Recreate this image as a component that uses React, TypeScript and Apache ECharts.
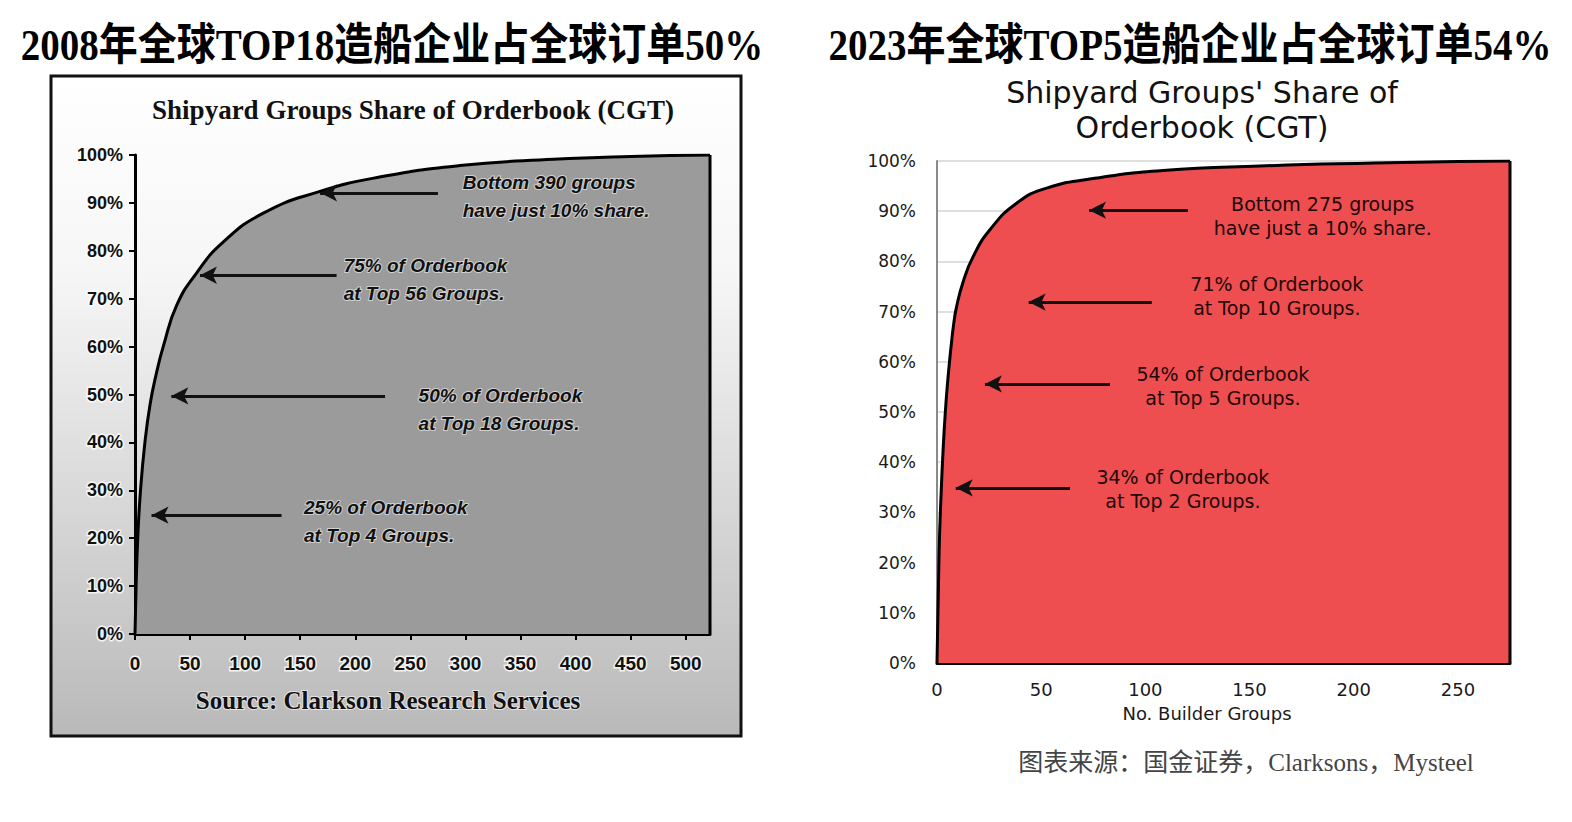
import React, { useEffect, useRef } from "react";
import * as echarts from "echarts";

// ---- Left chart (2008) ----
const LEFT_GROUPS = [0, 1, 2.5, 5, 9, 13.6, 19, 26, 38, 56, 80, 116, 165, 222, 295, 380, 450, 522];
const LEFT_SHARE = [0, 10, 20, 30, 40, 47.8, 54, 60.3, 68.7, 75.4, 81.8, 87.8, 92.2, 95.4, 97.8, 99.1, 99.7, 100];
const LEFT_MAX_GROUPS = 522;
const LEFT_X_TICKS = [0, 50, 100, 150, 200, 250, 300, 350, 400, 450, 500];

const LEFT_NOTES = [
  "Bottom 390 groups\nhave just 10% share.",
  "75% of Orderbook\nat Top 56 Groups.",
  "50% of Orderbook\nat Top 18 Groups.",
  "25% of Orderbook\nat Top 4 Groups.",
];
const LEFT_ARROW_Y = [92.1, 74.9, 49.7, 24.8];
const LEFT_ARROW_HEAD_X = [168, 59, 33, 15];
const LEFT_ARROW_TAIL_X = [275, 183, 227, 133];
const LEFT_NOTE_X = [297, 189, 257, 153];
const LEFT_NOTE_Y = [91.3, 74.0, 46.8, 23.5];

// ---- Right chart (2023) ----
const RIGHT_GROUPS = [0, 1, 2, 3, 4, 5, 6, 7, 8, 9.4, 12.6, 17.4, 25.4, 38.2, 52.6, 76.6, 108.5, 155, 210, 250, 275];
const RIGHT_SHARE = [0, 22, 34, 43, 50, 55.5, 60, 64, 67.5, 71, 76, 81, 86.3, 91.6, 94.6, 96.6, 98.1, 99, 99.6, 99.9, 100];
const RIGHT_MAX_GROUPS = 275;
const RIGHT_X_TICKS = [0, 50, 100, 150, 200, 250];

const RIGHT_NOTES = [
  "Bottom 275 groups\nhave just a 10% share.",
  "71% of Orderbook\nat Top 10 Groups.",
  "54% of Orderbook\nat Top 5 Groups.",
  "34% of Orderbook\nat Top 2 Groups.",
];
const RIGHT_ARROW_Y = [90.2, 71.9, 55.6, 34.9];
const RIGHT_ARROW_HEAD_X = [73, 44, 23, 9];
const RIGHT_ARROW_TAIL_X = [120.4, 103.1, 83, 63.8];
const RIGHT_NOTE_X = [185.1, 163.1, 137.2, 118.0];
const RIGHT_NOTE_Y = [89.0, 73.1, 55.1, 34.7];

const TITLE_LEFT = "2008年全球TOP18造船企业占全球订单50%";
const TITLE_RIGHT = "2023年全球TOP5造船企业占全球订单54%";
const SOURCE_NOTE = "图表来源：国金证券，Clarksons，Mysteel";

const SERIF = "'Liberation Serif', 'Times New Roman', 'Noto Sans CJK SC', serif";
const SANS = "'Liberation Sans', Arial, sans-serif";
const GOTHIC = "'DejaVu Sans', 'Noto Sans', sans-serif";

export default function App() {
  const ref = useRef<HTMLDivElement>(null);

  useEffect(() => {
    if (!ref.current) return;
    const chart = echarts.init(ref.current, null, { renderer: "svg" });

    const leftData = LEFT_GROUPS.map((g, i) => [g, LEFT_SHARE[i]]);
    const rightData = RIGHT_GROUPS.map((g, i) => [g, RIGHT_SHARE[i]]);
    const leftLast = LEFT_SHARE[LEFT_SHARE.length - 1];
    const rightLast = RIGHT_SHARE[RIGHT_SHARE.length - 1];

    const halo = { textBorderColor: "rgba(255,255,255,0.8)", textBorderWidth: 3 };

    const option: any = {
      animation: false,
      backgroundColor: "#ffffff",
      grid: [
        { left: 135, top: 155, width: 575, height: 479 },
        { left: 937, top: 161, width: 573, height: 502 },
      ],
      xAxis: [
        {
          gridIndex: 0,
          type: "value",
          min: 0,
          max: LEFT_MAX_GROUPS,
          axisLine: { show: true, lineStyle: { color: "#000", width: 3 } },
          axisTick: { show: true, length: 6, customValues: LEFT_X_TICKS, lineStyle: { color: "#000", width: 2 } },
          axisLabel: {
            customValues: LEFT_X_TICKS,
            margin: 20,
            fontFamily: SANS,
            fontWeight: "bold",
            fontSize: 19,
            color: "#111",
            ...halo,
          },
          splitLine: { show: false },
        },
        {
          gridIndex: 1,
          type: "value",
          min: 0,
          max: RIGHT_MAX_GROUPS,
          axisLine: { show: true, lineStyle: { color: "#000", width: 3 } },
          axisTick: { show: false },
          axisLabel: {
            customValues: RIGHT_X_TICKS,
            margin: 17,
            fontFamily: GOTHIC,
            fontSize: 18,
            color: "#1a1a1a",
          },
          splitLine: { show: false },
        },
      ],
      yAxis: [
        {
          gridIndex: 0,
          type: "value",
          min: 0,
          max: 100,
          interval: 10,
          axisLine: { show: true, lineStyle: { color: "#000", width: 3 } },
          axisTick: { show: true, length: 6, lineStyle: { color: "#000", width: 2 } },
          axisLabel: {
            formatter: "{value}%",
            margin: 12,
            fontFamily: SANS,
            fontWeight: "bold",
            fontSize: 18,
            color: "#111",
            ...halo,
          },
          splitLine: { show: false },
        },
        {
          gridIndex: 1,
          type: "value",
          min: 0,
          max: 100,
          interval: 10,
          axisLine: { show: true, lineStyle: { color: "#8a8a8a", width: 2 } },
          axisTick: { show: false },
          axisLabel: {
            formatter: "{value}%",
            margin: 21,
            fontFamily: GOTHIC,
            fontSize: 17,
            color: "#1a1a1a",
          },
          splitLine: { show: true, lineStyle: { color: "#d4d4d4", width: 1.5 } },
        },
      ],
      series: [
        {
          type: "line",
          xAxisIndex: 0,
          yAxisIndex: 0,
          data: leftData,
          smooth: 0.5,
          showSymbol: false,
          symbol: "none",
          lineStyle: { color: "#000", width: 3 },
          areaStyle: { color: "#9b9b9b", opacity: 1 },
          silent: true,
          z: 3,
          markLine: {
            silent: true,
            symbol: ["arrow", "none"],
            symbolSize: [13, 17],
            lineStyle: { color: "#111", width: 3, type: "solid" },
            label: { show: false },
            data: LEFT_ARROW_Y.map((y, i) => [
              { coord: [LEFT_ARROW_HEAD_X[i], y] },
              { coord: [LEFT_ARROW_TAIL_X[i], y] },
            ]),
          },
          markPoint: {
            silent: true,
            symbol: "circle",
            symbolSize: 1,
            itemStyle: { color: "rgba(0,0,0,0)" },
            label: {
              show: true,
              position: "right",
              distance: 0,
              formatter: "{b}",
              align: "left",
              fontFamily: SANS,
              fontStyle: "italic",
              fontWeight: "bold",
              fontSize: 19,
              lineHeight: 28,
              color: "#111",
              textBorderColor: "rgba(255,255,255,0.55)",
              textBorderWidth: 2,
            },
            data: LEFT_NOTES.map((t, i) => ({ name: t, coord: [LEFT_NOTE_X[i], LEFT_NOTE_Y[i]] })),
          },
        },
        {
          type: "line",
          xAxisIndex: 0,
          yAxisIndex: 0,
          data: [
            [LEFT_MAX_GROUPS, leftLast],
            [LEFT_MAX_GROUPS, 0],
          ],
          showSymbol: false,
          symbol: "none",
          lineStyle: { color: "#000", width: 3 },
          silent: true,
          z: 4,
        },
        {
          type: "line",
          xAxisIndex: 1,
          yAxisIndex: 1,
          data: rightData,
          smooth: 0.5,
          showSymbol: false,
          symbol: "none",
          lineStyle: { color: "#000", width: 3 },
          areaStyle: { color: "#ef4e51", opacity: 1 },
          silent: true,
          z: 3,
          markLine: {
            silent: true,
            symbol: ["arrow", "none"],
            symbolSize: [13, 17],
            lineStyle: { color: "#111", width: 3, type: "solid" },
            label: { show: false },
            data: RIGHT_ARROW_Y.map((y, i) => [
              { coord: [RIGHT_ARROW_HEAD_X[i], y] },
              { coord: [RIGHT_ARROW_TAIL_X[i], y] },
            ]),
          },
          markPoint: {
            silent: true,
            symbol: "circle",
            symbolSize: 1,
            itemStyle: { color: "rgba(0,0,0,0)" },
            label: {
              show: true,
              position: "inside",
              formatter: "{b}",
              align: "center",
              fontFamily: GOTHIC,
              fontSize: 19,
              lineHeight: 24,
              color: "#200808",
            },
            data: RIGHT_NOTES.map((t, i) => ({ name: t, coord: [RIGHT_NOTE_X[i], RIGHT_NOTE_Y[i]] })),
          },
        },
        {
          type: "line",
          xAxisIndex: 1,
          yAxisIndex: 1,
          data: [
            [RIGHT_MAX_GROUPS, rightLast],
            [RIGHT_MAX_GROUPS, 0],
          ],
          showSymbol: false,
          symbol: "none",
          lineStyle: { color: "#000", width: 3 },
          silent: true,
          z: 4,
        },
      ],
      graphic: [
        {
          type: "rect",
          z: -10,
          silent: true,
          shape: { x: 51, y: 76, width: 690, height: 660 },
          style: {
            fill: new echarts.graphic.LinearGradient(0, 0, 0, 1, [
              { offset: 0, color: "#ffffff" },
              { offset: 0.3, color: "#f6f6f6" },
              { offset: 1, color: "#b9b9b9" },
            ]),
            stroke: "#111",
            lineWidth: 3,
          },
        },
        {
          type: "text",
          x: 392,
          y: 45,
          scaleY: 1.15,
          silent: true,
          style: {
            text: TITLE_LEFT,
            font: `bold 39px ${SERIF}`,
            fill: "#000",
            align: "center",
            verticalAlign: "middle",
          },
        },
        {
          type: "text",
          x: 1190,
          y: 45,
          scaleY: 1.15,
          silent: true,
          style: {
            text: TITLE_RIGHT,
            font: `bold 39px ${SERIF}`,
            fill: "#000",
            align: "center",
            verticalAlign: "middle",
          },
        },
        {
          type: "text",
          x: 413,
          y: 110,
          silent: true,
          style: {
            text: "Shipyard Groups Share of Orderbook (CGT)",
            font: `bold 27px ${SERIF}`,
            fill: "#111",
            align: "center",
            verticalAlign: "middle",
          },
        },
        {
          type: "text",
          x: 388,
          y: 700,
          silent: true,
          style: {
            text: "Source: Clarkson Research Services",
            font: `bold 25px ${SERIF}`,
            fill: "#111",
            align: "center",
            verticalAlign: "middle",
            stroke: "rgba(255,255,255,0.6)",
            lineWidth: 2,
          },
        },
        {
          type: "text",
          x: 1202,
          y: 110,
          silent: true,
          style: {
            text: "Shipyard Groups' Share of\nOrderbook (CGT)",
            font: `30px ${GOTHIC}`,
            lineHeight: 35,
            fill: "#111",
            align: "center",
            verticalAlign: "middle",
          },
        },
        {
          type: "text",
          x: 1207,
          y: 713,
          silent: true,
          style: {
            text: "No. Builder Groups",
            font: `18px ${GOTHIC}`,
            fill: "#1a1a1a",
            align: "center",
            verticalAlign: "middle",
          },
        },
        {
          type: "text",
          x: 1246,
          y: 762,
          silent: true,
          style: {
            text: SOURCE_NOTE,
            font: `25px ${SERIF}`,
            fill: "#444",
            align: "center",
            verticalAlign: "middle",
          },
        },
      ],
    };

    chart.setOption(option);
    return () => chart.dispose();
  }, []);

  return (
    <div
      ref={ref}
      style={{ position: "fixed", left: 0, top: 0, width: 1572, height: 822, background: "#fff" }}
    />
  );
}
